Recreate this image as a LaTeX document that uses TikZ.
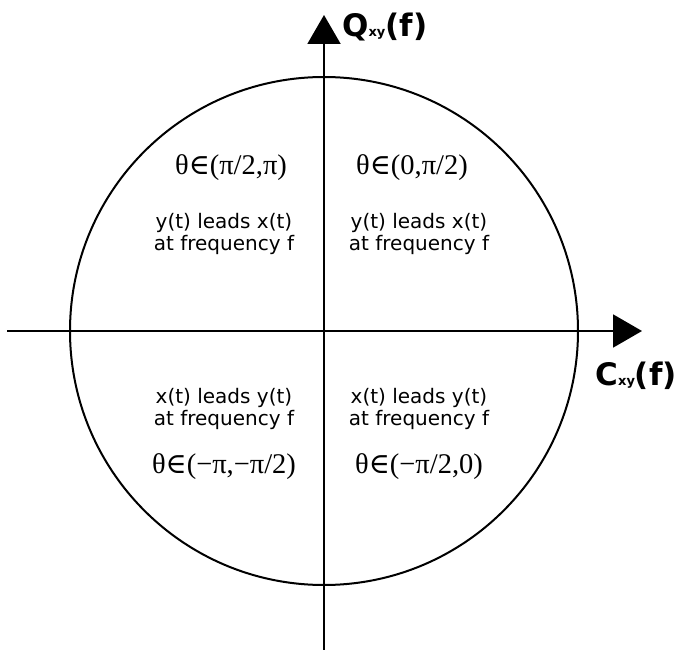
\documentclass[tikz,border=0pt]{standalone}
\usepackage{fontspec}
\setmainfont{Liberation Serif}
\newfontfamily\lblfont{DejaVu Sans}
\newfontfamily\symfont{DejaVu Serif}
\usetikzlibrary{arrows.meta}
\newcommand{\elemof}{{\symfont\char"2208}}
\begin{document}
\begin{tikzpicture}[x=1pt,y=-1pt,
  axis/.style={line width=2pt,-{Triangle[length=29pt,width=33pt]}},
  note/.style={font=\lblfont\fontsize{20}{22}\selectfont,align=center,inner sep=0pt},
  angle/.style={font=\fontsize{28.5}{30}\selectfont,inner sep=0pt},
  axlabel/.style={font=\lblfont\bfseries\fontsize{31}{33}\selectfont,inner sep=0pt}]
\useasboundingbox (0,0) rectangle (680,650);
\coordinate (O) at (324,331);
\coordinate (L) at (7,331);
\coordinate (R) at (642,331);
\coordinate (B) at (324,650);
\coordinate (T) at (324,15);
\draw[line width=2pt] (O) circle (254pt);
\draw[axis] (L) -- (R);
\draw[axis] (B) -- (T);
\node[axlabel,anchor=base west] (qlab) at (342,37) {Q{\fontsize{13}{13}\selectfont xy}(f)};
\node[axlabel,anchor=base east] (clab) at (677,385) {C{\fontsize{13}{13}\selectfont xy}(f)};
\node[angle] (a2) at (231,168) {θ\elemof(π/2,π)};
\node[angle] (a1) at (412,168) {θ\elemof(0,π/2)};
\node[note] (n2) at (224,234) {y(t) leads x(t)\\at frequency f};
\node[note] (n1) at (419,234) {y(t) leads x(t)\\at frequency f};
\node[note] (n3) at (224,409) {x(t) leads y(t)\\at frequency f};
\node[note] (n4) at (419,409) {x(t) leads y(t)\\at frequency f};
\node[angle] (a3) at (224,467) {θ\elemof(−π,−π/2)};
\node[angle] (a4) at (419,467) {θ\elemof(−π/2,0)};
\end{tikzpicture}
\end{document}
